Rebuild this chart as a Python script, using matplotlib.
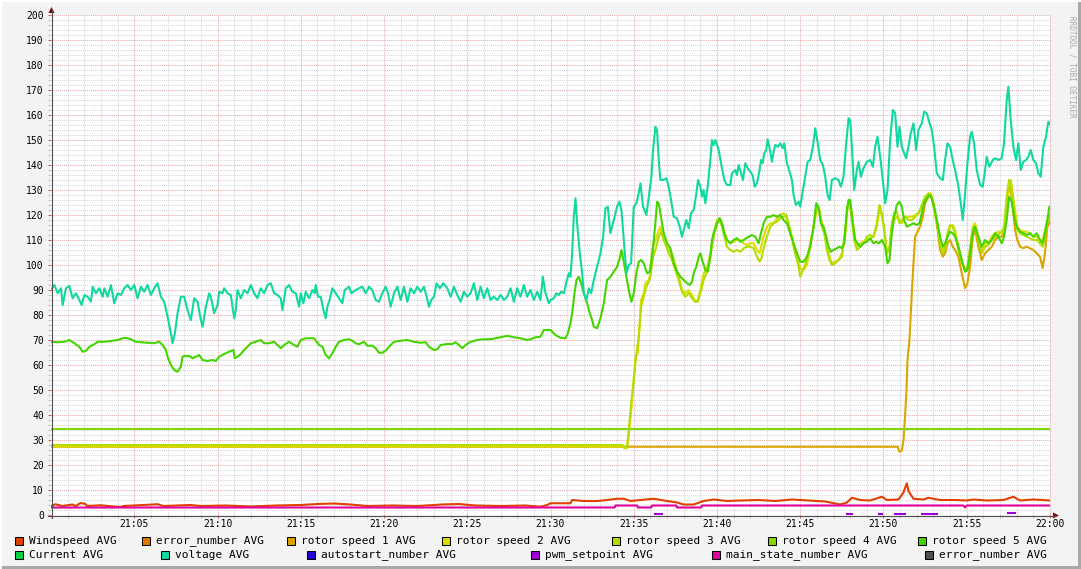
import numpy as np
import matplotlib
matplotlib.use("Agg")
import matplotlib.pyplot as plt
from matplotlib.lines import Line2D
from matplotlib.patches import Rectangle, Polygon

# ---------------- data (time in minutes after 21:00) ----------------
windspeed = [(0, 3.6), (0.27, 4.3), (0.69, 3.6), (1.29, 4.2), (1.47, 3.6), (1.77, 4.8), (2.07, 4.4),
             (2.19, 3.6), (2.97, 3.9), (3.57, 3.5), (4.17, 3.2), (4.35, 3.6), (6.4, 4.3), (6.76, 3.6),
             (8.38, 4.0), (9.0, 3.6), (10.5, 3.8), (12.0, 3.4), (13.5, 3.8), (15.0, 4.0), (16.0, 4.4),
             (17.0, 4.6), (18.0, 4.2), (19.0, 3.6), (20.5, 3.8), (22.0, 3.6), (23.5, 4.2), (24.5, 4.4),
             (25.5, 3.8), (27.0, 3.6), (28.5, 3.8), (29.4, 3.3), (29.8, 4.0), (30.0, 4.7), (31.2, 4.7),
             (31.3, 6.0), (32.0, 5.6), (32.8, 5.6), (33.4, 6.0), (34.0, 6.5), (34.4, 6.5), (34.8, 5.6),
             (35.4, 6.0), (36.2, 6.5), (37.0, 5.6), (37.6, 5.0), (38.0, 4.2), (38.6, 4.2), (39.2, 5.6),
             (39.8, 6.2), (40.6, 5.6), (41.4, 5.8), (42.5, 6.0), (43.5, 5.6), (44.5, 6.2), (45.5, 5.8),
             (46.5, 5.4), (47.4, 4.2), (47.8, 5.0), (48.1, 6.9), (48.6, 6.0), (49.2, 5.8), (49.9, 7.3),
             (50.2, 6.0), (50.9, 6.2), (51.2, 9.0), (51.4, 12.7), (51.5, 9.5), (51.8, 6.5), (52.4, 6.2),
             (52.7, 6.9), (53.4, 6.0), (54.3, 6.0), (55.0, 5.8), (55.4, 6.2), (56.2, 5.8), (57.2, 6.0),
             (57.8, 7.3), (58.2, 5.8), (59.0, 6.2), (60.0, 5.8)]

error_number_a = [(0, 0.0), (60, 0.0)]

rotor_speed_1 = [(0, 27.3), (50.85, 27.3), (50.95, 25.3), (51.1, 25.8), (51.2, 30.0), (51.3, 40.0),
                 (51.38, 50.0), (51.44, 62.0), (51.56, 70.0), (51.64, 80.7), (51.72, 91.3), (51.8, 100.7),
                 (51.9, 111.3), (52.04, 113.3), (52.2, 115.3), (52.36, 119.3), (52.5, 124.7), (52.7, 127.3),
                 (52.84, 128.0), (53.0, 124.7), (53.2, 116.7), (53.4, 106.0), (53.56, 103.3), (53.7, 104.7),
                 (53.84, 108.7), (54.0, 110.0), (54.16, 107.3), (54.3, 106.0), (54.5, 103.3), (54.7, 96.7),
                 (54.9, 90.7), (55.04, 92.7), (55.2, 99.3), (55.36, 111.3), (55.5, 114.0), (55.7, 107.3),
                 (55.9, 102.0), (56.1, 104.7), (56.3, 106.0), (56.5, 107.3), (56.7, 110.0), (56.9, 111.3),
                 (57.1, 111.3), (57.24, 112.7), (57.4, 123.3), (57.54, 131.3), (57.64, 130.0), (57.76, 123.3),
                 (57.9, 114.0), (58.04, 110.0), (58.2, 107.3), (58.4, 106.7), (58.6, 107.3), (58.8, 106.7),
                 (59.0, 106.0), (59.2, 104.7), (59.4, 103.3), (59.56, 98.7), (59.7, 104.7), (59.84, 115.3),
                 (59.96, 116.7), (60.04, 118.0)]

rotor_speed_2 = [(0, 27.4), (34.3, 27.4), (34.45, 26.7), (34.6, 26.8), (34.7, 32.0), (34.85, 42.0), (35.0, 54.0),
                 (35.1, 63.3), (35.24, 64.7), (35.36, 76.7), (35.44, 86.0), (35.6, 88.7), (35.7, 92.7),
                 (35.9, 94.0), (36.0, 96.7), (36.1, 106.0), (36.3, 110.0), (36.44, 112.7), (36.6, 115.3),
                 (36.76, 111.3), (36.9, 108.7), (37.1, 106.0), (37.3, 104.7), (37.5, 100.0), (37.7, 95.3),
                 (37.9, 90.0), (38.1, 88.7), (38.3, 90.0), (38.5, 88.0), (38.7, 85.3), (38.84, 86.0),
                 (39.0, 90.0), (39.2, 96.7), (39.4, 98.7), (39.6, 104.7), (39.8, 112.7), (40.0, 118.0),
                 (40.16, 118.7), (40.3, 116.7), (40.44, 113.3), (40.6, 110.0), (40.8, 108.7), (41.0, 109.3),
                 (41.2, 110.0), (41.4, 110.0), (41.6, 108.7), (41.8, 108.0), (42.0, 108.7), (42.2, 108.7),
                 (42.4, 106.0), (42.56, 104.7), (42.7, 108.7), (42.8, 111.3), (43.0, 115.3), (43.2, 116.7),
                 (43.4, 116.7), (43.6, 118.7), (43.8, 120.0), (44.0, 120.7), (44.16, 119.3), (44.3, 115.3),
                 (44.5, 110.0), (44.7, 104.7), (44.9, 100.7), (45.0, 98.7), (45.2, 98.0), (45.4, 100.0),
                 (45.6, 107.3), (45.8, 115.3), (46.0, 123.3), (46.16, 122.0), (46.3, 116.7), (46.44, 114.0),
                 (46.6, 108.7), (46.76, 103.3), (46.9, 100.7), (47.1, 101.3), (47.3, 102.0), (47.5, 104.7),
                 (47.7, 111.3), (47.84, 123.3), (47.96, 125.3), (48.1, 120.7), (48.24, 112.7), (48.4, 107.3),
                 (48.6, 108.7), (48.8, 109.3), (49.0, 110.0), (49.2, 110.7), (49.4, 111.3), (49.6, 115.3),
                 (49.76, 123.3), (49.9, 119.3), (50.04, 115.3), (50.2, 104.7), (50.36, 106.0), (50.5, 115.3),
                 (50.64, 118.0), (50.8, 119.3), (50.96, 118.0), (51.1, 116.7), (51.3, 119.3), (51.5, 119.3),
                 (51.7, 119.3), (51.9, 120.0), (52.1, 120.7), (52.3, 122.7), (52.5, 126.7), (52.7, 128.0),
                 (52.84, 128.7), (53.0, 124.7), (53.2, 118.0), (53.4, 110.0), (53.56, 106.0), (53.7, 107.3),
                 (53.84, 111.3), (54.0, 115.3), (54.16, 116.0), (54.3, 114.0), (54.5, 107.3), (54.7, 102.0),
                 (54.9, 98.0), (55.04, 98.7), (55.2, 104.7), (55.36, 115.3), (55.5, 116.7), (55.7, 111.3),
                 (55.9, 106.0), (56.1, 108.7), (56.3, 108.7), (56.5, 111.3), (56.7, 112.7), (56.9, 113.3),
                 (57.1, 112.7), (57.24, 114.0), (57.4, 123.3), (57.54, 132.7), (57.64, 134.0), (57.76, 128.7),
                 (57.9, 122.0), (58.04, 115.3), (58.2, 114.0), (58.4, 113.3), (58.6, 113.3), (58.8, 112.7),
                 (59.0, 111.3), (59.2, 111.3), (59.4, 110.0), (59.56, 110.0), (59.7, 114.0), (59.84, 118.0),
                 (59.96, 118.0), (60.04, 119.3)]

rotor_speed_3 = [(0, 28.0), (34.3, 28.0), (34.45, 27.0), (34.6, 27.2), (34.7, 34.0), (34.85, 45.0), (35.0, 54.0),
                 (35.14, 63.3), (35.3, 71.3), (35.44, 83.3), (35.6, 87.3), (35.76, 91.3), (35.9, 93.3),
                 (36.0, 95.3), (36.16, 103.3), (36.36, 107.3), (36.5, 111.3), (36.64, 113.3), (36.8, 110.0),
                 (36.96, 107.3), (37.1, 104.7), (37.3, 102.0), (37.5, 98.0), (37.7, 94.0), (37.9, 89.3),
                 (38.1, 87.3), (38.3, 88.7), (38.5, 86.7), (38.7, 85.3), (38.84, 85.3), (39.0, 88.7),
                 (39.2, 94.0), (39.4, 97.3), (39.6, 103.3), (39.8, 111.3), (40.0, 116.7), (40.16, 118.0),
                 (40.3, 115.3), (40.44, 111.3), (40.6, 107.3), (40.8, 106.0), (41.0, 105.3), (41.2, 106.0),
                 (41.4, 105.3), (41.6, 106.7), (41.8, 107.3), (42.0, 107.3), (42.2, 106.7), (42.4, 103.3),
                 (42.56, 101.3), (42.7, 103.3), (42.8, 106.7), (43.0, 111.3), (43.2, 115.3), (43.4, 116.7),
                 (43.6, 117.3), (43.8, 118.7), (44.0, 119.3), (44.16, 120.0), (44.3, 116.7), (44.5, 111.3),
                 (44.7, 104.7), (44.9, 99.3), (45.0, 95.3), (45.2, 98.7), (45.4, 102.0), (45.6, 108.7),
                 (45.8, 115.3), (46.0, 123.3), (46.16, 120.7), (46.3, 115.3), (46.44, 112.7), (46.6, 106.0),
                 (46.76, 102.0), (46.9, 100.0), (47.1, 100.7), (47.3, 102.0), (47.5, 103.3), (47.7, 114.0),
                 (47.84, 123.3), (47.96, 124.7), (48.1, 118.0), (48.24, 110.0), (48.4, 106.0), (48.6, 107.3),
                 (48.8, 108.7), (49.0, 111.3), (49.2, 112.0), (49.4, 111.3), (49.6, 116.7), (49.76, 124.0),
                 (49.9, 120.7), (50.04, 114.0), (50.2, 104.7), (50.36, 107.3), (50.5, 116.7), (50.64, 120.7),
                 (50.8, 121.3), (50.96, 116.7), (51.1, 118.0), (51.3, 119.3), (51.5, 118.0), (51.7, 118.0),
                 (51.9, 119.3), (52.1, 120.7), (52.3, 124.0), (52.5, 127.3), (52.7, 128.7), (52.84, 128.0),
                 (53.0, 123.3), (53.2, 116.7), (53.4, 108.7), (53.56, 104.7), (53.7, 106.7), (53.84, 112.7),
                 (54.0, 116.0), (54.16, 115.3), (54.3, 112.7), (54.5, 106.0), (54.7, 100.7), (54.9, 98.0),
                 (55.04, 99.3), (55.2, 107.3), (55.36, 114.7), (55.5, 115.3), (55.7, 110.0), (55.9, 104.7),
                 (56.1, 107.3), (56.3, 108.0), (56.5, 110.0), (56.7, 111.3), (56.9, 112.0), (57.1, 113.3),
                 (57.24, 115.3), (57.4, 127.3), (57.54, 134.0), (57.64, 132.7), (57.76, 126.0), (57.9, 119.3),
                 (58.04, 114.0), (58.2, 112.7), (58.4, 112.0), (58.6, 111.3), (58.8, 110.7), (59.0, 110.0),
                 (59.2, 110.0), (59.4, 108.7), (59.56, 107.3), (59.7, 111.3), (59.84, 116.7), (59.96, 119.3),
                 (60.04, 120.7)]

rotor_speed_4 = [(0, 34.4), (60, 34.4)]

rotor_speed_5 = [(0.0, 69.3), (0.4, 69.1), (0.8, 69.3), (1.1, 70.0), (1.4, 68.7), (1.7, 67.3), (1.9, 65.3),
                 (2.1, 65.7), (2.3, 67.3), (2.5, 68.0), (2.7, 68.7), (2.8, 69.3), (3.2, 69.3), (3.6, 69.6),
                 (4.0, 70.0), (4.3, 70.7), (4.5, 70.9), (4.8, 70.3), (5.1, 69.3), (5.4, 69.1), (5.8, 68.9),
                 (6.2, 68.7), (6.5, 69.3), (6.7, 68.0), (6.9, 66.0), (7.0, 63.3), (7.2, 60.0), (7.4, 58.0),
                 (7.6, 57.3), (7.8, 59.3), (7.9, 63.3), (8.0, 63.6), (8.3, 63.6), (8.5, 62.7), (8.7, 63.3),
                 (8.9, 64.0), (9.1, 62.0), (9.4, 61.6), (9.7, 62.0), (9.9, 61.6), (10.1, 63.3), (10.4, 64.4),
                 (10.7, 65.3), (10.96, 66.0), (11.04, 62.7), (11.2, 63.3), (11.4, 64.4), (11.6, 66.0),
                 (11.8, 67.3), (12.0, 68.7), (12.3, 69.3), (12.6, 70.0), (12.8, 68.7), (13.1, 68.7),
                 (13.4, 69.3), (13.6, 68.0), (13.8, 66.7), (14.0, 68.0), (14.3, 69.3), (14.6, 68.0),
                 (14.8, 67.3), (15.0, 70.0), (15.3, 70.7), (15.8, 70.7), (16.1, 68.0), (16.3, 67.3),
                 (16.5, 64.0), (16.7, 62.7), (16.9, 64.7), (17.1, 67.3), (17.3, 69.3), (17.6, 70.0),
                 (17.9, 70.3), (18.1, 69.7), (18.3, 68.7), (18.5, 68.3), (18.8, 69.3), (19.0, 67.7),
                 (19.3, 67.7), (19.5, 66.7), (19.7, 64.9), (19.9, 64.9), (20.1, 65.7), (20.3, 67.3),
                 (20.6, 69.3), (21.0, 69.7), (21.4, 70.0), (21.8, 69.3), (22.2, 68.9), (22.5, 69.1),
                 (22.7, 67.3), (23.0, 66.0), (23.2, 66.3), (23.4, 68.0), (23.8, 68.4), (24.1, 68.4),
                 (24.3, 69.1), (24.5, 68.0), (24.7, 66.7), (24.9, 68.0), (25.2, 69.3), (25.6, 70.0),
                 (26.0, 70.3), (26.4, 70.3), (26.7, 70.7), (27.0, 71.1), (27.4, 71.7), (27.8, 71.1),
                 (28.2, 70.7), (28.6, 70.0), (28.8, 70.3), (29.1, 71.1), (29.4, 71.3), (29.6, 74.0),
                 (29.8, 74.0), (30.0, 74.0), (30.3, 72.0), (30.6, 70.9), (30.9, 70.7), (31.04, 72.7),
                 (31.2, 76.7), (31.3, 80.7), (31.44, 88.7), (31.56, 94.0), (31.7, 95.3), (31.84, 92.7),
                 (32.0, 88.7), (32.2, 84.7), (32.36, 80.7), (32.5, 78.0), (32.6, 75.3), (32.8, 74.7),
                 (33.0, 78.7), (33.2, 84.7), (33.4, 94.0), (33.6, 95.3), (33.8, 97.3), (34.0, 99.3),
                 (34.16, 102.7), (34.26, 106.0), (34.4, 101.3), (34.56, 95.3), (34.7, 90.0), (34.86, 85.3),
                 (35.0, 88.7), (35.16, 96.7), (35.3, 101.3), (35.44, 102.0), (35.6, 100.7), (35.8, 96.7),
                 (35.96, 97.3), (36.1, 103.3), (36.3, 116.7), (36.4, 125.3), (36.5, 124.7), (36.6, 120.7),
                 (36.8, 112.7), (37.0, 108.7), (37.2, 106.7), (37.4, 100.7), (37.6, 97.3), (37.8, 95.3),
                 (38.0, 94.0), (38.2, 92.7), (38.36, 92.0), (38.5, 93.3), (38.6, 96.7), (38.76, 99.3),
                 (38.9, 103.3), (39.0, 104.7), (39.14, 101.3), (39.3, 98.0), (39.44, 97.3), (39.6, 103.3),
                 (39.7, 110.0), (39.8, 112.7), (40.0, 116.7), (40.16, 118.7), (40.3, 116.7), (40.44, 112.7),
                 (40.6, 110.0), (40.8, 108.7), (41.0, 110.0), (41.2, 110.7), (41.4, 109.3), (41.6, 110.0),
                 (41.9, 111.3), (42.1, 112.0), (42.3, 111.3), (42.5, 108.7), (42.64, 112.7), (42.8, 116.7),
                 (43.0, 119.3), (43.2, 119.3), (43.4, 120.0), (43.6, 119.3), (43.8, 120.0), (44.0, 118.0),
                 (44.2, 116.7), (44.4, 112.7), (44.6, 108.7), (44.8, 104.7), (45.0, 101.3), (45.2, 101.3),
                 (45.4, 103.3), (45.6, 107.3), (45.8, 115.3), (45.96, 124.7), (46.1, 123.3), (46.24, 116.7),
                 (46.4, 115.3), (46.56, 111.3), (46.7, 107.3), (46.84, 105.3), (47.0, 106.0), (47.2, 106.7),
                 (47.36, 107.3), (47.5, 106.7), (47.64, 108.7), (47.8, 122.0), (47.9, 126.0), (48.0, 126.0),
                 (48.16, 116.7), (48.3, 110.0), (48.44, 108.7), (48.6, 107.3), (48.8, 108.7), (49.0, 109.3),
                 (49.2, 110.7), (49.4, 108.7), (49.56, 109.3), (49.72, 108.7), (49.9, 110.0), (50.1, 107.3),
                 (50.24, 100.7), (50.36, 102.0), (50.5, 112.7), (50.64, 119.3), (50.8, 124.0), (50.96, 125.3),
                 (51.1, 123.3), (51.24, 118.0), (51.4, 115.3), (51.6, 116.0), (51.8, 116.7), (52.0, 116.0),
                 (52.16, 116.7), (52.3, 120.7), (52.44, 124.7), (52.6, 126.7), (52.76, 128.0), (52.9, 126.7),
                 (53.04, 123.3), (53.2, 118.0), (53.4, 111.3), (53.56, 107.3), (53.7, 108.7), (53.84, 111.3),
                 (54.0, 113.3), (54.16, 112.7), (54.3, 111.3), (54.5, 107.3), (54.7, 102.0), (54.9, 97.3),
                 (55.04, 98.0), (55.2, 104.7), (55.36, 112.7), (55.5, 115.3), (55.7, 111.3), (55.9, 107.3),
                 (56.1, 110.0), (56.3, 108.7), (56.5, 110.0), (56.7, 112.7), (56.9, 111.3), (57.1, 108.7),
                 (57.24, 111.3), (57.4, 118.0), (57.54, 127.3), (57.7, 125.3), (57.84, 119.3), (58.0, 115.3),
                 (58.2, 113.3), (58.4, 112.7), (58.6, 112.0), (58.8, 112.7), (59.0, 111.3), (59.2, 112.7),
                 (59.4, 110.0), (59.56, 108.7), (59.7, 112.7), (59.84, 118.0), (59.96, 123.3), (60.04, 123.3)]

current = [(0, 0.0), (60, 0.0)]

voltage = [(0.0, 90.0), (0.2, 92.0), (0.4, 88.7), (0.6, 90.7), (0.7, 84.0), (0.9, 90.7), (1.1, 91.6), (1.3, 86.7),
           (1.5, 88.7), (1.7, 86.0), (1.84, 84.0), (2.0, 88.0), (2.2, 87.3), (2.4, 85.3), (2.5, 91.3), (2.7, 88.7),
           (2.9, 90.7), (3.1, 87.3), (3.2, 90.7), (3.4, 87.3), (3.6, 92.0), (3.8, 84.7), (4.0, 88.7), (4.2, 88.0),
           (4.4, 90.7), (4.6, 92.0), (4.8, 90.0), (5.0, 92.0), (5.2, 86.7), (5.4, 91.3), (5.6, 89.3), (5.8, 92.0),
           (6.0, 88.0), (6.2, 90.7), (6.4, 92.7), (6.6, 87.3), (6.8, 85.3), (7.0, 79.3), (7.2, 72.7), (7.3, 68.7),
           (7.44, 72.7), (7.6, 80.7), (7.8, 87.3), (8.0, 87.3), (8.2, 82.0), (8.4, 78.0), (8.6, 86.7), (8.8, 85.3),
           (9.0, 78.0), (9.1, 75.3), (9.3, 83.3), (9.5, 88.7), (9.6, 87.3), (9.8, 80.7), (10.0, 84.0), (10.1, 89.3),
           (10.3, 88.7), (10.4, 90.7), (10.6, 88.7), (10.8, 88.0), (11.0, 78.7), (11.1, 82.0), (11.2, 90.0),
           (11.4, 86.7), (11.6, 90.0), (11.8, 88.7), (12.0, 92.0), (12.2, 88.7), (12.4, 86.7), (12.6, 90.7),
           (12.8, 88.7), (13.0, 92.0), (13.2, 92.7), (13.4, 88.7), (13.6, 88.0), (13.8, 86.7), (13.9, 82.0),
           (14.1, 90.7), (14.3, 92.0), (14.5, 89.3), (14.7, 88.7), (14.9, 83.3),
           (15.0, 88.7), (15.16, 84.7), (15.3, 89.3), (15.5, 86.7), (15.7, 90.0), (15.84, 88.7), (15.9, 92.0),
           (16.04, 87.3), (16.2, 87.3), (16.36, 82.0), (16.5, 78.7), (16.6, 83.3), (16.76, 86.7), (16.9, 90.7),
           (17.1, 88.7), (17.3, 86.7), (17.5, 84.7), (17.64, 90.0), (17.9, 91.3), (18.04, 88.7), (18.3, 90.0),
           (18.5, 90.7), (18.7, 91.3), (18.9, 88.7), (19.1, 91.3), (19.3, 90.0), (19.5, 86.0), (19.7, 85.3),
           (19.9, 88.7), (20.1, 91.3), (20.24, 88.7), (20.4, 83.3), (20.6, 88.7), (20.8, 91.3), (21.0, 86.0),
           (21.2, 91.3), (21.4, 85.3), (21.6, 90.7), (21.8, 88.7), (22.0, 91.3), (22.2, 89.3), (22.4, 91.3),
           (22.56, 87.3), (22.7, 83.3), (22.84, 86.0), (23.0, 87.3), (23.16, 92.7), (23.36, 90.7), (23.56, 92.7),
           (23.8, 90.7), (24.0, 87.3), (24.2, 91.3), (24.4, 88.0), (24.6, 85.3), (24.8, 89.3), (25.0, 87.3),
           (25.2, 88.7), (25.4, 92.7), (25.6, 86.0), (25.8, 91.3), (26.0, 86.7), (26.2, 90.7), (26.4, 86.0),
           (26.6, 87.3), (26.8, 86.0), (27.0, 88.0), (27.2, 86.0), (27.4, 87.3), (27.6, 90.7), (27.8, 85.3),
           (28.0, 90.7), (28.2, 87.3), (28.4, 92.0), (28.6, 87.3), (28.8, 90.0), (29.0, 86.0), (29.2, 89.3),
           (29.4, 86.0), (29.54, 95.3), (29.7, 88.7), (29.9, 84.7),
           (30.0, 86.0), (30.2, 86.7), (30.36, 88.7), (30.5, 88.0), (30.64, 89.3), (30.8, 88.7), (30.96, 93.3),
           (31.1, 96.7), (31.2, 95.3), (31.3, 104.7), (31.4, 119.3), (31.5, 126.7), (31.6, 116.7), (31.76, 104.7),
           (31.9, 96.7), (32.0, 88.7), (32.16, 86.0), (32.3, 90.7), (32.44, 88.7), (32.6, 94.0), (32.8, 99.3),
           (33.0, 104.7), (33.16, 111.3), (33.3, 122.7), (33.44, 123.3), (33.6, 112.7), (33.8, 118.0),
           (34.0, 123.3), (34.14, 125.3), (34.26, 122.0), (34.4, 110.0), (34.56, 96.7), (34.7, 100.0),
           (34.84, 100.7), (35.0, 123.3), (35.16, 124.7), (35.3, 128.7), (35.4, 132.7), (35.56, 123.3),
           (35.76, 120.0), (35.9, 127.3), (36.06, 135.3), (36.16, 146.0), (36.3, 155.3), (36.4, 154.0),
           (36.5, 142.0), (36.6, 134.0), (36.76, 134.0), (36.96, 134.7), (37.1, 131.3), (37.24, 126.0),
           (37.4, 119.3), (37.6, 118.7), (37.76, 115.3), (37.9, 111.3), (38.0, 114.0), (38.16, 118.0),
           (38.3, 114.7), (38.44, 120.7), (38.6, 122.0), (38.76, 128.7), (38.86, 134.0), (39.0, 131.3),
           (39.1, 127.3), (39.2, 130.0), (39.3, 124.7), (39.44, 131.3), (39.6, 142.0), (39.7, 150.0),
           (39.8, 148.0), (39.9, 150.0), (40.1, 146.0), (40.3, 138.7), (40.44, 134.0), (40.6, 132.0),
           (40.8, 132.0), (40.9, 136.7), (41.1, 138.0), (41.2, 136.0), (41.3, 140.0), (41.44, 136.7),
           (41.56, 134.0), (41.7, 140.7), (41.84, 138.7), (42.0, 137.3), (42.14, 136.0), (42.26, 131.3),
           (42.4, 132.7), (42.56, 138.0), (42.64, 142.0), (42.74, 140.7), (42.84, 144.7), (42.96, 146.0),
           (43.04, 150.3), (43.16, 146.7), (43.3, 141.3), (43.4, 145.3), (43.5, 148.0), (43.66, 147.3),
           (43.8, 148.7), (43.94, 146.7), (44.04, 148.7), (44.2, 140.7), (44.36, 137.3), (44.5, 134.0),
           (44.6, 128.0), (44.74, 124.0), (44.9, 125.3),
           (45.0, 123.3), (45.16, 130.0), (45.3, 135.3), (45.44, 141.3), (45.6, 142.0), (45.76, 147.3),
           (45.9, 154.7), (46.04, 149.3), (46.2, 142.0), (46.36, 140.0), (46.5, 135.3), (46.64, 128.0),
           (46.76, 126.0), (46.9, 134.0), (47.1, 134.7), (47.3, 134.0), (47.44, 131.3), (47.6, 135.3),
           (47.76, 148.7), (47.9, 158.7), (48.0, 158.0), (48.1, 147.3), (48.24, 130.0), (48.4, 138.0),
           (48.5, 141.3), (48.64, 135.3), (48.8, 138.7), (49.0, 141.3), (49.2, 142.0), (49.36, 139.3),
           (49.5, 147.3), (49.64, 151.3), (49.8, 143.3), (49.96, 134.0), (50.1, 124.7), (50.24, 130.0),
           (50.4, 150.0), (50.56, 162.0), (50.7, 160.7), (50.84, 147.3), (50.96, 155.3), (51.1, 147.3),
           (51.24, 144.7), (51.36, 142.7), (51.5, 147.3), (51.64, 152.7), (51.8, 156.7), (51.96, 146.0),
           (52.1, 154.0), (52.3, 156.7), (52.44, 161.3), (52.6, 160.7), (52.74, 157.3), (52.9, 154.0),
           (53.04, 147.3), (53.2, 136.7), (53.4, 134.7), (53.56, 134.0), (53.7, 142.0), (53.84, 148.7),
           (54.0, 147.3), (54.16, 142.0), (54.3, 138.0), (54.5, 131.3), (54.64, 124.7), (54.76, 118.0),
           (54.9, 128.7), (55.04, 140.7), (55.2, 151.3), (55.3, 153.3), (55.44, 148.7), (55.6, 138.0),
           (55.8, 132.0), (55.96, 131.3), (56.1, 138.0), (56.2, 143.3), (56.36, 139.3), (56.56, 142.0),
           (56.7, 142.7), (56.9, 142.0), (57.1, 142.7), (57.24, 148.7), (57.4, 166.0), (57.5, 171.3),
           (57.64, 158.0), (57.8, 147.3), (57.96, 142.0), (58.1, 148.7), (58.24, 138.0), (58.4, 141.3),
           (58.56, 142.0), (58.7, 143.3), (58.84, 146.0), (59.0, 142.0), (59.16, 140.7), (59.3, 136.7),
           (59.44, 135.3), (59.6, 147.3), (59.76, 151.3), (59.9, 157.3), (60.04, 156.0)]

autostart_number = [(0, 0.0), (60, 0.0)]

pwm_setpoint = [(0, 0.0), (36.25, 0.0), (36.3, 0.5), (36.7, 0.5), (36.75, 0.0), (47.75, 0.0), (47.8, 0.5),
                (48.1, 0.5), (48.15, 0.0), (49.65, 0.0), (49.7, 0.5), (49.9, 0.5), (49.95, 0.0), (50.65, 0.0),
                (50.7, 0.5), (51.3, 0.5), (51.35, 0.0), (52.25, 0.0), (52.3, 0.5), (53.2, 0.5), (53.25, 0.0),
                (57.45, 0.0), (57.5, 0.8), (57.9, 0.8), (57.95, 0.0), (60, 0.0)]

main_state_number = [(0, 3.0), (33.85, 3.0), (33.9, 3.8), (35.2, 3.8), (35.25, 3.0), (36.05, 3.0), (36.1, 3.8),
                     (37.55, 3.8), (37.6, 3.0), (39.05, 3.0), (39.1, 3.8), (54.8, 3.8), (54.9, 3.0), (55.0, 3.8),
                     (60, 3.8)]

error_number_b = [(0, 0.0), (60, 0.0)]

series = [windspeed, error_number_a, rotor_speed_1, rotor_speed_2, rotor_speed_3, rotor_speed_4,
          rotor_speed_5, current, voltage, autostart_number, pwm_setpoint, main_state_number, error_number_b]
legend_labels = ["Windspeed AVG", "error_number AVG", "rotor speed 1 AVG", "rotor speed 2 AVG",
                 "rotor speed 3 AVG", "rotor speed 4 AVG", "rotor speed 5 AVG",
                 "Current AVG", "voltage AVG", "autostart_number AVG", "pwm_setpoint AVG",
                 "main_state_number AVG", "error_number AVG"]
colors = ["#E04000", "#E07800", "#DCA400", "#DCDC00", "#B4DC00", "#84D800", "#44D400",
          "#00D444", "#10D8A0", "#2800D8", "#A000D8", "#E000A0", "#505050"]

x_tick_pos = [5, 10, 15, 20, 25, 30, 35, 40, 45, 50, 55, 60]
x_tick_labels = ["21:05", "21:10", "21:15", "21:20", "21:25", "21:30", "21:35", "21:40",
                 "21:45", "21:50", "21:55", "22:00"]
y_tick_pos = list(range(0, 201, 10))

# ---------------- layout ----------------
W, H, DPI = 1081, 569, 100
MONO = "DejaVu Sans Mono"
fig = plt.figure(figsize=(W / DPI, H / DPI), dpi=DPI, facecolor="#F3F3F3")
X0, X1, YB, YT = 51, 1050, 515, 15
ax = fig.add_axes([X0 / W, 1 - YB / H, (X1 - X0) / W, (YB - YT) / H])
ax.set_facecolor("white")
for s in ax.spines.values():
    s.set_visible(False)
ax.set_xlim(0, 60)
ax.set_ylim(0, 200)

minor_c, major_c = "#D8D8D8", "#E8AAAA"
dot = (0, (1, 1))
for m in range(1, 61):
    ax.axvline(m, color=major_c if m % 5 == 0 else minor_c, lw=0.75, ls=dot, zorder=0.5, clip_on=False)
for v in range(2, 201, 2):
    ax.axhline(v, color=major_c if v % 10 == 0 else minor_c, lw=0.75, ls=dot, zorder=0.5, clip_on=False)

ax.set_xticks(x_tick_pos)
ax.set_xticklabels(x_tick_labels, fontfamily=MONO, fontsize=7)
ax.set_xticks(range(0, 61), minor=True)
ax.set_yticks(y_tick_pos)
ax.set_yticklabels([str(v) for v in y_tick_pos], fontfamily=MONO, fontsize=7)
ax.set_yticks(range(0, 201, 2), minor=True)
ax.tick_params(which="major", length=2, width=0.75, color="#D06060", pad=1.2, direction="out")
ax.tick_params(axis="y", which="major", pad=3.2)
ax.tick_params(which="minor", length=2, width=0.75, color="#C4C4C4", direction="out")

for s, c in zip(series, colors):
    t, v = zip(*s)
    v = np.array(v, dtype=float)
    v = np.where(v > 0, v, np.nan)  # zero values sit under the axis line
    ax.plot(t, v, color=c, lw=1.5, solid_joinstyle="round", zorder=2, clip_on=True)


def fx(x):
    return x / W


def fy(y):
    return 1 - y / H


# axis lines and arrows
fig.add_artist(Line2D([fx(51.5), fx(51.5)], [fy(518), fy(10)], color="#505050", lw=0.8))
fig.add_artist(Line2D([fx(48), fx(1055)], [fy(515.5), fy(515.5)], color="#505050", lw=0.8))
fig.add_artist(Polygon([(fx(48.5), fy(13)), (fx(54.5), fy(13)), (fx(51.5), fy(7))],
                       closed=True, transform=fig.transFigure, color="#8B0000", lw=0))
fig.add_artist(Polygon([(fx(1053), fy(512.5)), (fx(1053), fy(518.5)), (fx(1059), fy(515.5))],
                       closed=True, transform=fig.transFigure, color="#8B0000", lw=0))

# watermark
fig.text(fx(1072), fy(16), "RRDTOOL / TOBI OETIKER", rotation=270, ha="center", va="top",
         fontsize=5.5, color="#A8A8A8", fontfamily=MONO)

# legend
leg_pos = [(15, 541), (142, 541), (287, 541), (442, 541), (612, 541), (768, 541), (918, 541),
           (15, 555), (161, 555), (307, 555), (531, 555), (712, 555), (925, 555)]
for (bx, by), lab, c in zip(leg_pos, legend_labels, colors):
    fig.add_artist(Rectangle((fx(bx), fy(by + 4)), 8 / W, 8 / H, transform=fig.transFigure,
                             facecolor=c, edgecolor="black", lw=0.75))
    fig.text(fx(bx + 14), fy(by), lab, ha="left", va="center", fontsize=8,
             fontfamily=MONO, color="black")

# 3D frame
fig.add_artist(Rectangle((fx(1078), 0), 3 / W, 1, transform=fig.transFigure, facecolor="#A8A8A8", lw=0))
fig.add_artist(Rectangle((0, 0), 1, 3 / H, transform=fig.transFigure, facecolor="#A8A8A8", lw=0))
fig.add_artist(Rectangle((0, fy(2)), 1, 2 / H, transform=fig.transFigure, facecolor="#FFFFFF", lw=0))
fig.add_artist(Rectangle((0, 0), 2 / W, 1, transform=fig.transFigure, facecolor="#FFFFFF", lw=0))

fig.savefig("out.png", dpi=DPI, facecolor=fig.get_facecolor())
